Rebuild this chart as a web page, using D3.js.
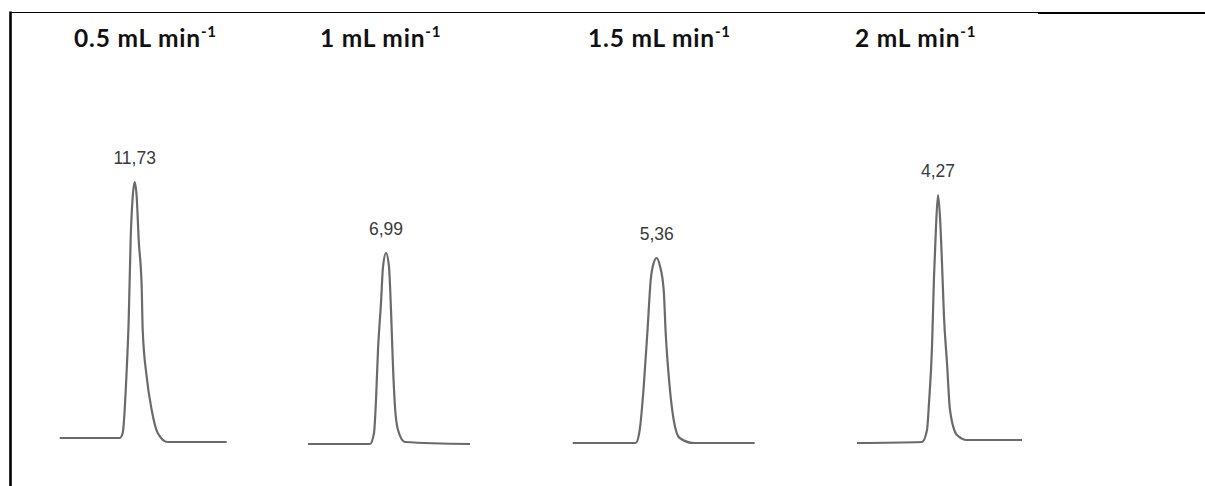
<!DOCTYPE html>
<html>
<head>
<meta charset="utf-8">
<script src="https://cdn.jsdelivr.net/npm/d3@7"></script>
<style>
  html, body { margin: 0; padding: 0; background: #fff; }
  svg { display: block; }
  .title { font-family: Lato, "Open Sans", sans-serif; font-weight: bold; fill: #111; letter-spacing: 0.8px; }
  .rt { font-family: "Liberation Sans", Arial, sans-serif; fill: #3a3a3a; }
</style>
</head>
<body>
<svg id="chart" width="1205" height="486"></svg>
<script>
'use strict';

// flow rates (panel titles) and retention times (peak labels)
const flowRates = ['0.5', '1', '1.5', '2'];
const retention = [11.73, 6.99, 5.36, 4.27];

// traced chromatogram points: [time (min), signal (mAU)]
const peak05 = [[10.98,4],[11.58,4],[11.61,9],[11.65,72],[11.67,122],[11.69,204],[11.71,245],[11.73,260],
  [11.75,245],[11.77,202],[11.80,155],[11.81,112],[11.85,65],[11.90,32],[11.96,9],[12.06,0],[12.65,0]];
const peak10 = [[6.21,-2],[6.83,-2],[6.87,9],[6.89,42],[6.91,92],[6.94,139],[6.96,175],[6.99,189],
  [7.02,175],[7.04,132],[7.06,75],[7.08,35],[7.11,12],[7.18,0],[7.83,-2]];
const peak15 = [[4.52,-1],[5.15,-1],[5.19,12],[5.23,55],[5.27,115],[5.30,162],[5.33,179],[5.36,184],
  [5.39,177],[5.43,152],[5.45,109],[5.49,55],[5.53,22],[5.59,4],[5.73,-1],[6.34,-1]];
const peak20 = [[3.46,-1],[4.11,0],[4.16,12],[4.18,39],[4.21,95],[4.23,165],[4.25,215],[4.27,247],
  [4.29,225],[4.31,179],[4.33,125],[4.36,79],[4.39,32],[4.46,7],[4.56,2],[5.11,2]];
const peaks = [peak05, peak10, peak15, peak20];

// layout
const W = 1205, H = 486;
const apexX = [134.7, 386, 656.7, 938];   // where each retention time sits on screen
const titleX = [74, 320, 588, 855];
const pxPerMin = 100;

const svg = d3.select('#chart');

// frame (table cell borders)
svg.append('line').attr('x1', 10).attr('x2', 1038).attr('y1', 12.5).attr('y2', 12.5)
  .attr('stroke', '#000').attr('stroke-width', 1.2);
svg.append('line').attr('x1', 1038).attr('x2', W).attr('y1', 13).attr('y2', 13)
  .attr('stroke', '#000').attr('stroke-width', 2.2);
svg.append('line').attr('x1', 10.5).attr('x2', 10.5).attr('y1', 11.5).attr('y2', H)
  .attr('stroke', '#000').attr('stroke-width', 2.6);

const y = d3.scaleLinear().domain([0, 260]).range([442, 182]);

peaks.forEach((pts, i) => {
  const rt = retention[i];
  const x = d3.scaleLinear().domain([rt - 1, rt + 1])
    .range([apexX[i] - pxPerMin, apexX[i] + pxPerMin]);

  const line = d3.line().x(d => x(d[0])).y(d => y(d[1])).curve(d3.curveMonotoneX);
  svg.append('path').datum(pts)
    .attr('d', line)
    .attr('fill', 'none')
    .attr('stroke', '#6a6a6a')
    .attr('stroke-width', 2.2)
    .attr('stroke-linejoin', 'round');

  const top = d3.max(pts, d => d[1]);
  svg.append('text').attr('class', 'rt')
    .attr('x', x(rt)).attr('y', y(top) - 18)
    .attr('text-anchor', 'middle')
    .attr('font-size', 17.5)
    .text(String(rt.toFixed(2)).replace('.', ','));

  const t = svg.append('text').attr('class', 'title')
    .attr('x', titleX[i]).attr('y', 47)
    .attr('font-size', 24.5);
  t.append('tspan').text(flowRates[i] + ' mL min');
  t.append('tspan').attr('font-size', 15).attr('dy', -10).text('-1');
});
</script>
</body>
</html>
